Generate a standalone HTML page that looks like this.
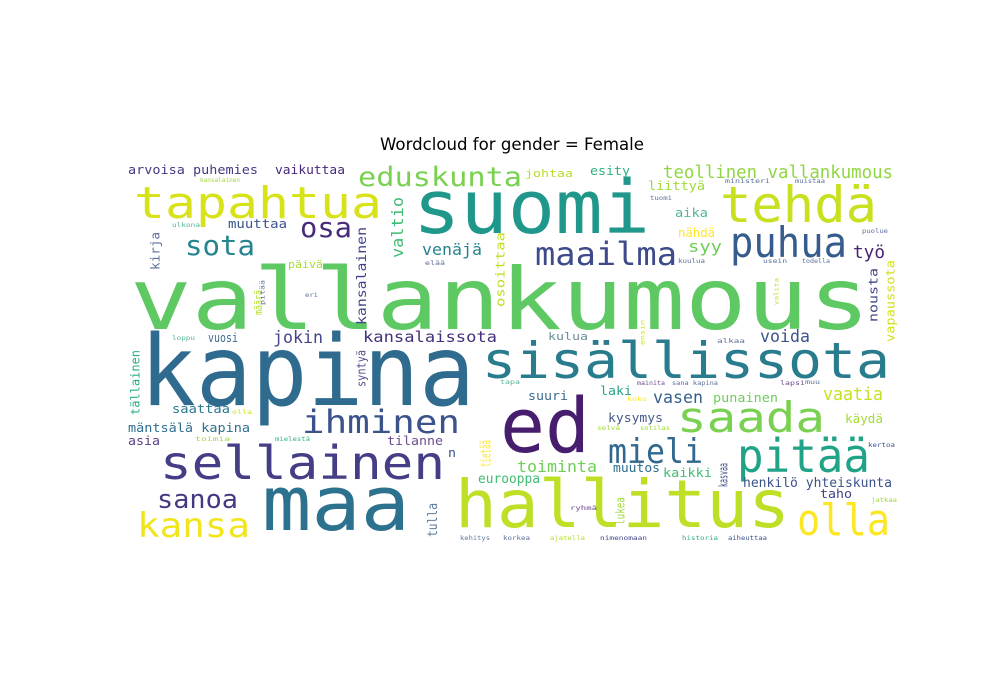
<!DOCTYPE html>
<html><head><meta charset="utf-8"><style>
html,body{margin:0;padding:0;background:#fff;}
svg{display:block;}
</style></head><body>
<svg id="chart" width="1000" height="700" viewBox="0 0 1000 700" xmlns="http://www.w3.org/2000/svg">
<rect width="1000" height="700" fill="#fff"/>
<text x="380" y="150" textLength="264" lengthAdjust="spacingAndGlyphs" font-family="'DejaVu Sans','Liberation Sans',sans-serif" font-size="16.5" fill="#000">Wordcloud for gender = Female</text>
<g id="words" font-family="'DejaVu Sans Mono','Liberation Mono',monospace"></g>
</svg>
<script>
// horizontal words: [text, left, right, baseline, size, color]
const hWords = [
["vallankumous",130,870,329,86,"#5ec962"],
["kapina",140,475,405,98,"#2f6b8e"],
["suomi",413,650,233,74,"#1f978b"],
["ed",500,590,452,76,"#471d6e"],
["hallitus",455,790,527,66,"#bddf26"],
["maa",262,410,530,76,"#2c718e"],
["sisällissota",482,890,378,50,"#297b8e"],
["sellainen",160,445,479,46,"#433e85"],
["tapahtua",134,382,218,44,"#d8e219"],
["tehdä",720,877,222,50,"#c8e020"],
["eduskunta",358,522,186,27,"#7ad151"],
["arvoisa puhemies",128,258,174,12,"#443983"],
["vaikuttaa",275,345,174,12,"#482878"],
["johtaa",525,573,177,11,"#b5de2b"],
["esity",590,630,175,12,"#2db27d"],
["teollinen vallankumous",663,893,178,18,"#90d743"],
["liittyä",648,705,190,12,"#a0da39"],
["osa",300,352,237,28,"#472c7a"],
["muuttaa",228,287,228,12,"#3b528b"],
["sota",185,255,255,28,"#25858e"],
["venäjä",422,482,255,16,"#26828e"],
["päivä",288,323,268,11,"#a8db34"],
["maailma",535,677,265,32,"#3e4a89"],
["syy",688,722,252,16,"#6ece58"],
["puhua",730,847,257,42,"#365c8d"],
["aika",675,708,217,12,"#52b69a"],
["nähdä",678,715,237,12,"#fde725"],
["työ",853,885,258,18,"#482475"],
["voida",760,810,342,17,"#3b528b"],
["kulua",548,588,340,11,"#6b8e9e"],
["jokin",273,323,343,17,"#414487"],
["kansalaissota",363,497,342,15,"#472f7d"],
["vuosi",208,238,342,12,"#3b6d8e"],
["saattaa",172,230,413,12,"#2a788e"],
["mäntsälä kapina",128,250,432,12,"#2e6e8e"],
["asia",128,160,445,12,"#5a3f8b"],
["ihminen",302,460,433,32,"#3b528b"],
["tilanne",387,443,445,12,"#6d4c8e"],
["n",448,456,457,12,"#3b528b"],
["sanoa",157,238,508,26,"#443a83"],
["kansa",137,250,537,34,"#f1e51d"],
["eurooppa",478,540,483,13,"#3fbc73"],
["suuri",528,568,400,12,"#3b6b8d"],
["laki",600,632,395,12,"#26a48a"],
["vasen",653,703,403,17,"#35608d"],
["punainen",713,778,402,12,"#6ccd5a"],
["vaatia",823,883,400,18,"#c8e020"],
["saada",677,825,432,42,"#7ad151"],
["kysymys",608,663,422,12,"#485a8a"],
["käydä",845,883,423,12,"#a5db36"],
["mieli",608,703,463,34,"#31688e"],
["pitää",737,870,472,46,"#20a386"],
["toiminta",517,597,472,16,"#6ece58"],
["muutos",613,660,472,12,"#2e6e8e"],
["kaikki",663,712,477,12,"#40bd72"],
["henkilö yhteiskunta",743,892,487,13,"#3b528b"],
["taho",820,852,498,12,"#404387"],
["olla",797,890,535,44,"#fde725"],
["kehitys",460,490,540,6,"#5c7c9c"],
["korkea",503,530,540,6,"#5c6e9a"],
["ajatella",550,585,540,6,"#b5de2b"],
["nimenomaan",600,647,540,6,"#414487"],
["historia",682,718,540,6,"#2db27d"],
["aiheuttaa",728,767,540,6,"#3b528b"],
["ryhmä",570,597,510,6,"#6d4c8e"],
["jatkaa",871,897,502,6,"#a0da39"],
["kertoa",868,895,447,6,"#3b528b"],
["lapsi",780,805,385,6,"#6d4c8e"],
["mainita",637,665,385,6,"#6d4c8e"],
["sana kapina",672,718,385,6,"#5c6e9a"],
["ulkona",172,200,227,6,"#52b69a"],
["kansalainen",200,240,182,6,"#a0da39"],
["kuulua",678,705,263,6,"#5c6e9a"],
["usein",763,787,263,6,"#5c6e9a"],
["todella",802,830,263,6,"#5c6e9a"],
["puolue",862,888,233,6,"#5c6e9a"],
["elää",425,445,265,6,"#5c6e9a"],
["eri",305,318,297,6,"#5c6e9a"],
["loppu",172,195,340,6,"#52b69a"],
["toimia",195,230,441,6,"#a0da39"],
["olla",232,252,414,6,"#d2e21b"],
["mielestä",275,310,441,6,"#2db27d"],
["tapa",500,520,384,6,"#52b69a"],
["muu",805,820,384,6,"#5c6e9a"],
["selvä",597,620,430,6,"#a0da39"],
["sotilas",640,670,430,6,"#a0da39"],
["koko",627,647,401,6,"#fde725"],
["alkaa",717,745,343,6,"#5c6e9a"],
["tuomi",650,672,200,6,"#5c6e9a"],
["muistaa",795,825,183,6,"#5c6e9a"],
["ministeri",725,770,183,6,"#5c6e9a"]
];
// vertical words (read bottom to top): [text, centerX, bottom, top, size, color]
const vWords = [
["valtio",397,258,197,16,"#3fbc73"],
["kirja",155,270,232,12,"#5c6e9a"],
["kansalainen",361,325,227,13,"#414487"],
["määrä",258,315,290,11,"#b5de2b"],
["osoittaa",500,307,232,12,"#bddf26"],
["nousta",873,322,268,12,"#414487"],
["vapaussota",890,342,260,12,"#d2e21b"],
["syntyä",361,387,350,12,"#5b4c8b"],
["tällainen",135,415,350,12,"#29af7f"],
["tietää",485,467,440,14,"#fde725"],
["tulla",432,537,503,13,"#5c7c9c"],
["kasvaa",723,487,463,12,"#3e4989"],
["lukea",620,525,497,12,"#9fda3a"],
["valita",776,305,278,6,"#b5de2b"],
["ensin",642,345,320,6,"#d2e21b"],
["pitää",262,305,280,6,"#5c6e9a"]
];
const NS = "http://www.w3.org/2000/svg";
const g = document.getElementById("words");
function slug(s){return s.toLowerCase().replace(/ä/g,"a").replace(/ö/g,"o").replace(/[^a-z0-9]+/g,"-");}
hWords.forEach(w => {
  const t = document.createElementNS(NS, "text");
  
  
  t.setAttribute("x", w[1]);
  t.setAttribute("y", w[3]);
  t.setAttribute("font-size", w[4]);
  t.setAttribute("fill", w[5]);
  t.setAttribute("textLength", w[2] - w[1]);
  t.setAttribute("lengthAdjust", "spacingAndGlyphs");
  t.textContent = w[0];
  g.appendChild(t);
});
vWords.forEach(w => {
  const t = document.createElementNS(NS, "text");
  
  
  const bx = w[1] + w[4] * 0.38;
  t.setAttribute("x", 0);
  t.setAttribute("y", 0);
  t.setAttribute("transform", "translate(" + bx + "," + w[2] + ") rotate(-90)");
  t.setAttribute("font-size", w[4]);
  t.setAttribute("fill", w[5]);
  t.setAttribute("textLength", w[2] - w[3]);
  t.setAttribute("lengthAdjust", "spacingAndGlyphs");
  t.textContent = w[0];
  g.appendChild(t);
});
</script>
</body></html>
